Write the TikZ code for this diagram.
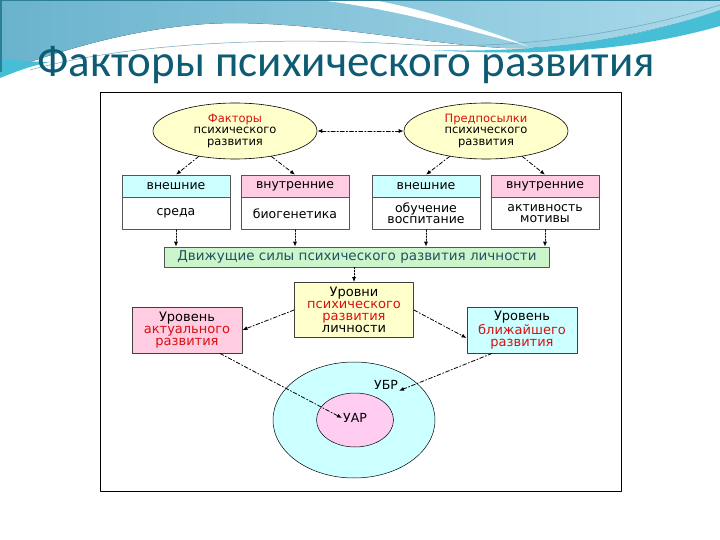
\documentclass[tikz,border=0pt]{standalone}
\usepackage{fontspec}
\setmainfont{DejaVu Sans}
\newfontfamily\titlefont{Carlito}
\newfontfamily\boxfont{DejaVu Sans}
\usepackage{tikz}
\usetikzlibrary{arrows.meta,shapes.geometric,positioning}

\definecolor{titleteal}{HTML}{0E5C73}
\definecolor{wavedeep}{HTML}{6AB3CD}
\definecolor{wavelight}{HTML}{A9D9EA}
\definecolor{wavedark}{HTML}{2D7F97}
\definecolor{swoosh}{HTML}{46BFD6}
\definecolor{ovalyellow}{HTML}{FFFFCC}
\definecolor{cyanfill}{HTML}{CCFFFF}
\definecolor{pinkfill}{HTML}{FFCCE2}
\definecolor{barfill}{HTML}{CCF5CC}
\definecolor{barteal}{HTML}{1F5262}
\definecolor{lilac}{HTML}{FFCCF2}
\definecolor{textred}{HTML}{D81010}
\definecolor{boxgray}{HTML}{555555}

\begin{document}
\begin{tikzpicture}[
  x=1pt,y=-1pt,
  line cap=round,
  line join=round,
  >={Latex[length=5pt,width=4pt]},
  oval/.style={ellipse,draw=black,line width=0.6pt,fill=ovalyellow,
    minimum width=164pt,minimum height=56pt,inner sep=0pt,align=center,
    font=\boxfont\fontsize{11.5}{11.5}\selectfont},
  headbox/.style={draw=boxgray,line width=0.6pt,minimum width=108pt,
    minimum height=22pt,inner sep=0pt,font=\boxfont\fontsize{12.5}{12}\selectfont},
  bodybox/.style={draw=boxgray,line width=0.6pt,fill=white,minimum width=108pt,
    minimum height=32pt,inner sep=0pt,align=center,
    font=\boxfont\fontsize{12.5}{11}\selectfont},
  forcebar/.style={draw=boxgray,line width=0.6pt,fill=barfill,minimum width=385pt,
    minimum height=20pt,inner sep=0pt,text=barteal,
    font=\boxfont\fontsize{13.5}{13}\selectfont},
  levelbox/.style={draw=black!75,line width=0.9pt,minimum width=110pt,
    minimum height=46pt,inner sep=0pt,align=center,
    font=\boxfont\fontsize{13}{12}\selectfont},
  zone/.style={ellipse,draw=black,line width=0.5pt,inner sep=0pt},
  link/.style={->,line width=0.8pt,dash pattern=on 4pt off 2pt on 1.2pt off 2pt},
  drop/.style={->,line width=0.8pt,dash pattern=on 1.5pt off 1.5pt}
]
\useasboundingbox (0,0) rectangle (720,540);

% header waves
\fill[white] (0,0) rectangle (720,540);
\fill[left color=wavedeep,right color=wavelight] (0,0) -- (720,0) -- (720,12)
  .. controls (640,34) and (570,50) .. (505,48)
  .. controls (420,44) and (300,18) .. (205,24)
  .. controls (120,30) and (50,55) .. (0,72) -- cycle;
\fill[white] (318,0) .. controls (390,8) and (460,28) .. (528,46)
  .. controls (470,24) and (410,6) .. (372,0) -- cycle;
\fill[swoosh] (430,50) .. controls (560,54) and (650,34) .. (720,10)
  -- (720,26) .. controls (650,46) and (560,58) .. (430,50) -- cycle;
\fill[swoosh] (0,58) .. controls (15,60) and (30,62) .. (50,62)
  .. controls (30,66) and (15,72) .. (0,78) -- cycle;
\draw[wavedark!70,line width=0.5pt] (30,70) .. controls (120,45) and (260,36) .. (400,44)
  .. controls (520,52) and (640,30) .. (720,5);
\fill[wavedark] (0,0) rectangle (720,1.5);
\fill[wavedark] (0,0) rectangle (1.5,72);

% title
\node[font=\titlefont\fontsize{45}{45}\selectfont,text=titleteal,anchor=base west,
  inner sep=0pt] (title) at (37,77) {Факторы психического развития};

% frame
\draw[black,line width=0.9pt,fill=white] (100,92) rectangle (621,491);

% factors and prerequisites
\node[oval] (fac) at (235,131) {\textcolor{textred}{Факторы}\\психического\\развития};
\node[oval] (pre) at (486,131) {\textcolor{textred}{Предпосылки}\\психического\\развития};
\draw[link,<->] (fac) -- (pre);

% four columns
\node[headbox,fill=cyanfill] (outA) at (176,186) {внешние};
\node[bodybox,below=0pt of outA] (envA) {среда};
\node[headbox,fill=pinkfill] (inB) at (295,186) {внутренние};
\node[bodybox,below=0pt of inB] (bioB) {биогенетика};
\node[headbox,fill=cyanfill] (outC) at (426,186) {внешние};
\node[bodybox,below=0pt of outC] (eduC) {обучение\\воспитание};
\node[headbox,fill=pinkfill] (inD) at (545,186) {внутренние};
\node[bodybox,below=0pt of inD] (motD) {активность\\мотивы};

\draw[link] (fac.215) -- (outA.north);
\draw[link] (fac.325) -- (inB.north);
\draw[link] (pre.215) -- (outC.north);
\draw[link] (pre.325) -- (inD.north);

% driving forces
\node[forcebar] (bar) at (357,257) {Движущие силы психического развития личности};
\draw[drop] (envA.south) -- (envA.south |- bar.north);
\draw[drop] (bioB.south) -- (bioB.south |- bar.north);
\draw[drop] (eduC.south) -- (eduC.south |- bar.north);
\draw[drop] (motD.south) -- (motD.south |- bar.north);

% levels
\node[levelbox,fill=ovalyellow,minimum width=119pt,minimum height=55pt] (lev) at (354,310)
  {Уровни\\\textcolor{textred}{психического}\\\textcolor{textred}{развития}\\личности};
\node[levelbox,fill=pinkfill] (act) at (187,330)
  {Уровень\\\textcolor{textred}{актуального}\\\textcolor{textred}{развития}};
\node[levelbox,fill=cyanfill] (near) at (522,330)
  {Уровень\\\textcolor{textred}{ближайшего}\\\textcolor{textred}{развития}};
\draw[drop] (lev.north |- bar.south) -- (lev.north);
\draw[link] (lev.west) -- (act.east);
\draw[link] (lev.east) -- ([yshift=-8pt]near.west);

% zones
\node[zone,fill=cyanfill,minimum width=162pt,minimum height=116pt] (zbr) at (354,420) {};
\node[zone,fill=lilac,minimum width=77pt,minimum height=54pt] (zar) at (355,420) {};
\node[font=\boxfont\fontsize{12.5}{12}\selectfont,inner sep=1pt] (ubr) at (386,385) {УБР};
\node[font=\boxfont\fontsize{12.5}{12}\selectfont,inner sep=1pt] (uar) at (355,418) {УАР};
\draw[link] ([xshift=33pt]act.south) -- (uar.west);
\draw[link] ([xshift=-30pt]near.south) -- (ubr.south east);

\end{tikzpicture}
\end{document}
